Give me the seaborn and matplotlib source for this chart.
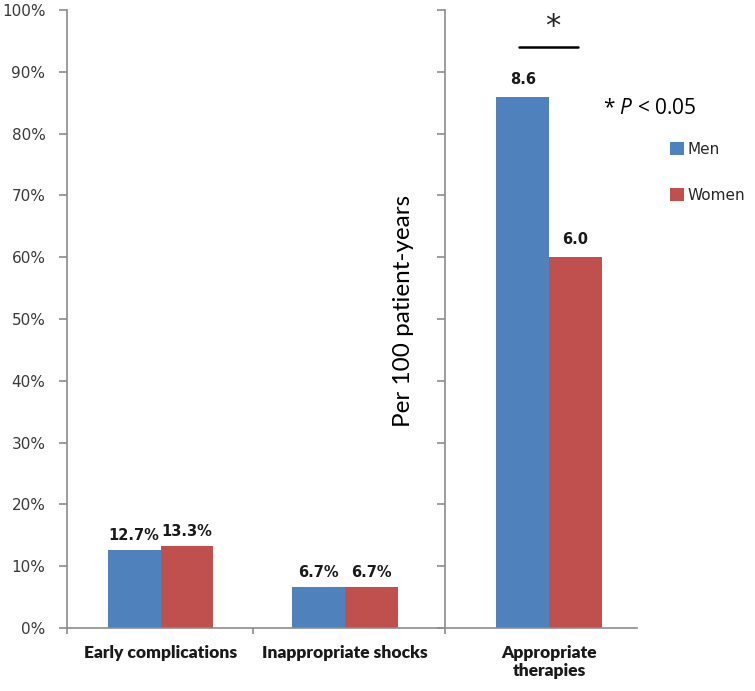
import matplotlib
matplotlib.use("Agg")
import matplotlib.pyplot as plt
import numpy as np
import pandas as pd
import seaborn as sns

sns.set_style("white")
plt.rcParams["font.family"] = ["DejaVu Sans"]
plt.rcParams["mathtext.fontset"] = "custom"
plt.rcParams["mathtext.rm"] = "Open Sans"
plt.rcParams["mathtext.it"] = "Open Sans:italic"

# data
sexes = ["Men", "Women"]
left_categories = ["Early complications", "Inappropriate shocks"]
left_men = [12.7, 6.7]
left_women = [13.3, 6.7]
left_men_labels = ["12.7%", "6.7%"]
left_women_labels = ["13.3%", "6.7%"]

right_categories = ["Appropriate\ntherapies"]
right_men = [86.0]      # 8.6 per 100 patient-years, drawn on the % scale
right_women = [60.0]    # 6.0 per 100 patient-years
right_men_labels = ["8.6"]
right_women_labels = ["6.0"]

yticks = list(range(0, 101, 10))
colors = {"Men": "#4F81BD", "Women": "#C0504D"}
axis_gray = "#8C8C8C"


def make_frame(categories, men, women):
    rows = []
    for cat, m, w in zip(categories, men, women):
        rows.append({"category": cat, "sex": "Men", "value": m})
        rows.append({"category": cat, "sex": "Women", "value": w})
    return pd.DataFrame(rows)


left_df = make_frame(left_categories, left_men, left_women)
right_df = make_frame(right_categories, right_men, right_women)

W, H = 755, 691
fig = plt.figure(figsize=(W / 100, H / 100), dpi=100)
ax_left = fig.add_axes([67 / W, 63 / H, (445 - 67) / W, 618 / H])
ax_right = fig.add_axes([445 / W, 63 / H, (637 - 445) / W, 618 / H])

sns.barplot(data=left_df, x="category", y="value", hue="sex", hue_order=sexes,
            palette=colors, width=0.57, saturation=1, legend=False,
            linewidth=0, edgecolor="none", ax=ax_left)
sns.barplot(data=right_df, x="category", y="value", hue="sex", hue_order=sexes,
            palette=colors, width=0.55, saturation=1, legend=False,
            linewidth=0, edgecolor="none", ax=ax_right)

ax_left.set_xlim(-0.507, 1.542)
ax_right.set_xlim(-0.542, 0.458)

label_font = dict(fontsize=10.5, fontweight="bold", color="#1a1a1a")
ax_left.bar_label(ax_left.containers[0], labels=left_men_labels, padding=5, **label_font)
ax_left.bar_label(ax_left.containers[1], labels=left_women_labels, padding=5, **label_font)
ax_right.bar_label(ax_right.containers[0], labels=right_men_labels, padding=7, **label_font)
ax_right.bar_label(ax_right.containers[1], labels=right_women_labels, padding=7, **label_font)

for ax in (ax_left, ax_right):
    ax.set_ylim(0, 100)
    ax.set_yticks(yticks)
    ax.set_xlabel("")
    ax.set_ylabel("")
    ax.grid(False)
    for side in ("top", "right"):
        ax.spines[side].set_visible(False)
    for side in ("left", "bottom"):
        ax.spines[side].set_color(axis_gray)
        ax.spines[side].set_linewidth(1.2)
    ax.tick_params(axis="y", which="major", left=True, direction="out", length=6,
                   width=1.2, color=axis_gray, pad=9.5)
    ax.tick_params(axis="x", which="major", bottom=True, length=0, pad=12)
    ax.tick_params(axis="x", which="minor", bottom=True, direction="out", length=4,
                   width=1.2, color=axis_gray)
    for lab in ax.get_xticklabels():
        lab.set_fontfamily("Lato")
        lab.set_fontweight("heavy")
        lab.set_fontsize(12.5)
        lab.set_color("#1a1a1a")

ax_left.set_yticklabels([f"{t}%" for t in yticks], fontsize=11, color="#3a3a3a",
                        family="DejaVu Sans")
ax_right.set_yticklabels([])
ax_left.set_xticks([ax_left.get_xlim()[0], 0.5], minor=True)
ax_right.set_xticks([ax_right.get_xlim()[0]], minor=True)

# significance bracket
ax_right.plot([-0.156, 0.151], [94, 94], color="black", lw=1.8, clip_on=False)
ax_right.text(0.02, 97.4, "*", fontsize=22, ha="center", va="center", clip_on=False)

fig.text(403 / W, 1 - 311 / H, "Per 100 patient-years", rotation=90, ha="center",
         va="center", fontsize=17.5, family="Lato", color="black")
fig.text(603 / W, 1 - 109 / H, r"* $\mathit{P}$ < 0.05", ha="left", va="center",
         fontsize=15, family="Open Sans", color="black")

handles = [ax_right.containers[0].patches[0], ax_right.containers[1].patches[0]]
fig.legend(handles, sexes, loc="upper left", bbox_to_anchor=(670 / W, 1 - 142 / H),
           frameon=False, fontsize=11, handlelength=0.9, handleheight=0.9,
           handletextpad=0.25, labelspacing=2.0, borderpad=0, borderaxespad=0)

fig.savefig("out.png", dpi=100)
